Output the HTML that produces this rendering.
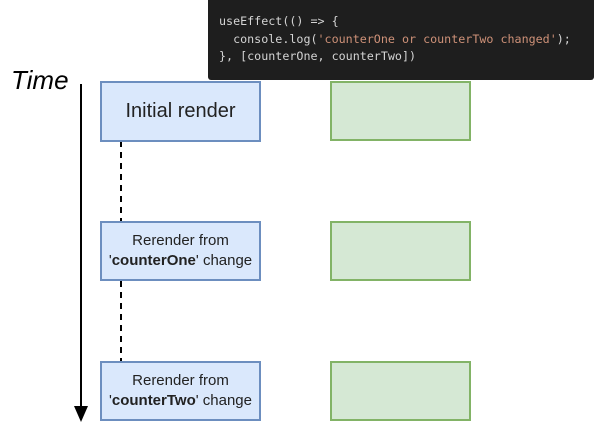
<!DOCTYPE html>
<html><head><style>
body{margin:0;width:596px;height:438px;background:#fff;position:relative;overflow:hidden;font-family:"Liberation Sans",sans-serif}
.code{position:absolute;left:208px;top:0;width:386px;height:80px;background:#1e1e1e;border-radius:0 0 3px 3px}
.code pre{margin:0;position:absolute;left:11px;top:13px;font:11.7px/17.5px "DejaVu Sans Mono",monospace;color:#d4d4d4}
.s{color:#ce9178}
.b{position:absolute;box-sizing:border-box;border:2px solid #6c8ebf;background:#dae8fc;display:flex;align-items:center;justify-content:center;text-align:center;color:#222}
.g{position:absolute;box-sizing:border-box;border:2px solid #82b366;background:#d5e8d4;left:330px;width:141px;height:60px}
</style></head><body>
<div class="code"><pre>useEffect(() => {
  console.log(<span class="s">'counterOne or counterTwo changed'</span>);
}, [counterOne, counterTwo])</pre></div>
<div style="position:absolute;left:11px;top:65px;font-size:26px;font-style:italic;color:#000">Time</div>
<svg width="596" height="438" style="position:absolute;left:0;top:0">
<line x1="81" y1="84" x2="81" y2="408" stroke="#000" stroke-width="2"/>
<polygon points="74,406 88,406 81,422" fill="#000"/>
<line x1="121" y1="141" x2="121" y2="221" stroke="#000" stroke-width="2" stroke-dasharray="6,5"/>
<line x1="121" y1="281" x2="121" y2="361" stroke="#000" stroke-width="2" stroke-dasharray="6,5"/>
</svg>
<div class="b" style="left:100px;top:81px;width:161px;height:61px;font-size:20px"><div>Initial render</div></div>
<div class="b" style="left:100px;top:221px;width:161px;height:60px;font-size:15px;line-height:20px"><div>Rerender from<br>'<b>counterOne</b>' change</div></div>
<div class="b" style="left:100px;top:361px;width:161px;height:60px;font-size:15px;line-height:20px"><div>Rerender from<br>'<b>counterTwo</b>' change</div></div>
<div class="g" style="top:81px"></div>
<div class="g" style="top:221px"></div>
<div class="g" style="top:361px"></div>
</body></html>
